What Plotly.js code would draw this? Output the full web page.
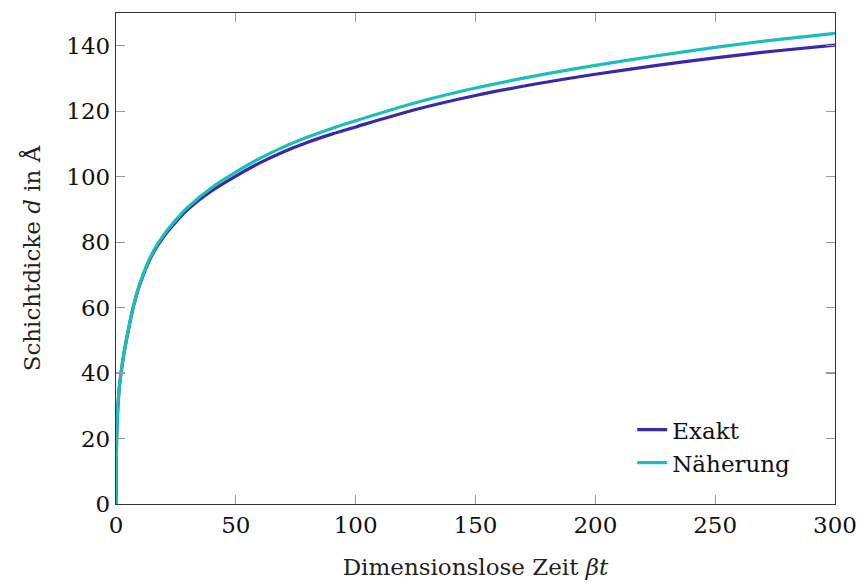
<!DOCTYPE html>
<html>
<head>
<meta charset="utf-8">
<script src="https://cdn.plot.ly/plotly-3.0.1.min.js"></script>
<style>html,body{margin:0;padding:0;background:#fff;}#chart{width:862px;height:586px;}</style>
</head>
<body>
<div id="chart"></div>
<script>
// Dimensionless time beta*t
const zeit = [0, 0.1, 0.25, 0.5, 1, 1.5, 2, 3, 4, 5, 7, 10, 15, 20, 25, 30, 40, 50, 60, 70, 80, 90, 100, 125, 150, 175, 200, 225, 250, 275, 300];
// Layer thickness d in Å
const exakt = [0, 12, 19, 25.5, 32, 36.5, 39.5, 44.5, 48.8, 52.5, 59.5, 67.2, 76.0, 81.8, 86.2, 90.0, 95.7, 100.2, 104.2, 107.6, 110.5, 113.0, 115.2, 120.5, 124.8, 128.3, 131.3, 133.9, 136.3, 138.4, 140.2];
const naeherung = [0, 12, 19.1, 25.6, 32.1, 36.6, 39.6, 44.6, 48.9, 52.7, 59.7, 67.5, 76.4, 82.3, 86.8, 90.7, 96.7, 101.4, 105.6, 109.1, 112.1, 114.75, 117.1, 122.6, 127.1, 130.8, 134.0, 136.85, 139.5, 141.8, 143.8];
const names = ["Exakt", "Näherung"];
const xTicks = [0, 50, 100, 150, 200, 250, 300];
const yTicks = [0, 20, 40, 60, 80, 100, 120, 140];

const font = "DejaVu Serif";
const traces = [
  {x: zeit, y: exakt, name: names[0], mode: "lines", line: {color: "rgb(58,40,168)", width: 3.2, shape: "spline", smoothing: 0.8}},
  {x: zeit, y: naeherung, name: names[1], mode: "lines", line: {color: "rgb(26,190,186)", width: 3.2, shape: "spline", smoothing: 0.8}}
];
const axisCommon = {
  showgrid: false, zeroline: false, showline: true, linecolor: "#333", linewidth: 1.2,
  mirror: "ticks", ticks: "inside", ticklen: 9, tickcolor: "#999", tickwidth: 1.2,
  tickfont: {family: font, size: 23, color: "#111"}
};
const layout = {
  width: 862, height: 586,
  margin: {l: 116, r: 27, t: 13, b: 82},
  paper_bgcolor: "#fff", plot_bgcolor: "#fff",
  font: {family: font, color: "#111"},
  xaxis: Object.assign({}, axisCommon, {range: [0, 300], tickvals: xTicks, ticktext: xTicks.map(String),
    title: {text: "Dimensionslose Zeit <i>βt</i>", font: {family: font, size: 23, color: "#222"}, standoff: 22}}),
  yaxis: Object.assign({}, axisCommon, {range: [0, 150], tickvals: yTicks, ticktext: yTicks.map(String),
    title: {text: "Schichtdicke <i>d</i> in Å", font: {family: font, size: 23, color: "#222"}, standoff: 19}}),
  legend: {x: 0.718, xanchor: "left", y: 0.195, yanchor: "top", bgcolor: "rgba(255,255,255,0)",
    font: {family: font, size: 23, color: "#111"}, tracegroupgap: 0},
  showlegend: true
};
Plotly.newPlot("chart", traces, layout, {displayModeBar: false, staticPlot: true});
</script>
</body>
</html>
